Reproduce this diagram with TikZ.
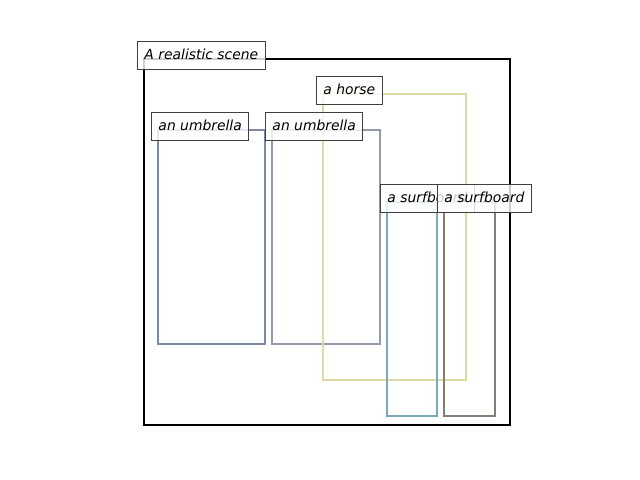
\documentclass[tikz,border=0pt]{standalone}
\usepackage{fontspec}
\setmainfont{DejaVu Sans}
\definecolor{scenec}{RGB}{0,0,0}
\definecolor{umbA}{RGB}{125,137,162}
\definecolor{umbB}{RGB}{146,155,170}
\definecolor{horsec}{RGB}{222,218,165}
\definecolor{surfA}{RGB}{122,168,184}
\definecolor{surfB}{RGB}{128,128,116}
\definecolor{lblborder}{RGB}{64,64,64}
\tikzset{
  px/.style={x=0.72pt,y=-0.72pt},
  bbox/.style={line width=2pt, line join=miter},
  lbl/.style={anchor=base west, xshift=-5pt, draw=lblborder, line width=0.7pt, fill=white, fill opacity=0.8, text opacity=1,
    inner xsep=5pt, inner ysep=5pt, text height=7.6pt, text depth=2.2pt, font=\itshape\fontsize{10pt}{12pt}\selectfont}
}
\begin{document}
\begin{tikzpicture}[px]
\useasboundingbox (0,0) rectangle (640,480);
\draw[bbox, draw=scenec] (144,59) rectangle (510,425);
\draw[bbox, draw=umbA] (158,130) rectangle (265,344);
\draw[bbox, draw=umbB] (272,130) rectangle (380,344);
\draw[bbox, draw=horsec] (323,94) rectangle (466,380);
\draw[bbox, draw=surfA] (387,202) rectangle (437,416);
\draw[bbox, draw=surfB] (444,202) rectangle (495,416);
\coordinate (c0) at (144,59);
\coordinate (c1) at (158,130);
\coordinate (c2) at (272,130);
\coordinate (c3) at (323,94);
\coordinate (c4) at (387,202);
\coordinate (c5) at (444,202);
\node[lbl] (l0) at (c0) {A realistic scene};
\node[lbl] (l1) at (c1) {an umbrella};
\node[lbl] (l2) at (c2) {an umbrella};
\node[lbl] (l3) at (c3) {a horse};
\node[lbl] (l4) at (c4) {a surfboard};
\node[lbl] (l5) at (c5) {a surfboard};
\end{tikzpicture}
\end{document}
